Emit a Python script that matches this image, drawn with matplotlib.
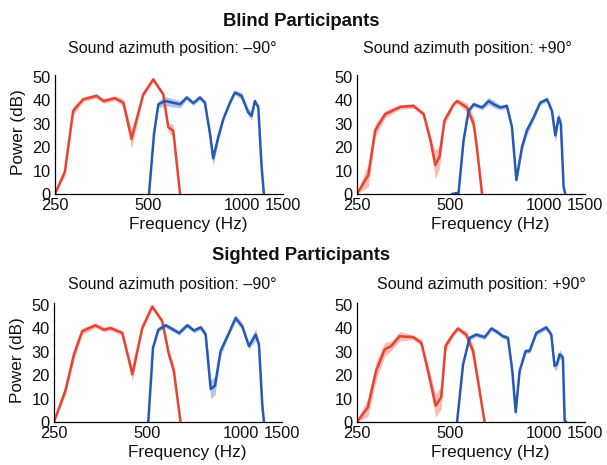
import numpy as np
import matplotlib.pyplot as plt
from matplotlib.ticker import NullLocator

plt.rcParams['font.family'] = ['Liberation Sans', 'DejaVu Sans']

# Blind participants, -90 deg
bl_m90_red_f = [250, 269, 286, 308, 340, 358, 390, 415, 441, 481, 518, 558, 579, 601, 632]
bl_m90_red_db = [0, 9.5, 35.5, 40.4, 41.9, 39.7, 40.9, 39, 23.6, 42.5, 48.9, 42.5, 28.5, 27, 0]
bl_m90_red_err = [0.5, 2, 2, 1, 1, 1, 1, 1.5, 4, 1, 1, 1, 2, 2.5, 0.5]
bl_m90_blue_f = [502, 521, 538, 565, 632, 664, 697, 732, 760, 789, 808, 839, 871, 915, 949,
                 997, 1048, 1074, 1101, 1129, 1157, 1177]
bl_m90_blue_db = [0, 25.7, 38.3, 39.7, 38.3, 41.2, 38.8, 41.2, 39, 25.7, 15.2, 24.3, 32, 39, 43.3,
                  41.9, 34.8, 33.4, 39.7, 37, 11.7, 0]
bl_m90_blue_err = [0.5, 1, 1.5, 2, 1.5, 1, 1, 1, 1, 2, 3, 2, 1, 1, 1, 1.5, 1.5, 2, 1, 1, 1, 0.5]

# Blind participants, +90 deg
bl_p90_red_f = [250, 272, 286, 308, 345, 380, 410, 431, 447, 461, 478, 512, 525, 565, 594, 608, 632]
bl_p90_red_db = [0, 8.1, 27.1, 34.1, 37.2, 37.6, 34.1, 22.9, 12.4, 15.9, 31.3, 38.3, 39.7, 36.9, 29.9, 20, 0]
bl_p90_red_err = [1, 5, 3, 1.5, 1, 1, 1, 2, 6, 5, 2, 1, 1, 2, 3, 3, 1]
bl_p90_blue_f = [505, 531, 551, 572, 594, 632, 664, 689, 724, 760, 789, 815, 850, 881, 926, 973,
                 1023, 1061, 1088, 1115, 1134, 1157, 1171]
bl_p90_blue_db = [0, 0.5, 22.9, 35.5, 38.3, 36.9, 39.7, 38.3, 36.9, 37.6, 28.5, 6, 20.1, 27.1, 32.7, 39,
                  40.4, 35.5, 25, 32.7, 29.9, 3.2, 0]
bl_p90_blue_err = [0.5, 1, 1.5, 1, 1, 1, 1.5, 1.5, 1, 1, 1.5, 2, 2, 2, 1.5, 1, 1, 1.5, 3, 2, 2, 1, 0.5]

# Sighted participants, -90 deg
si_m90_red_f = [250, 272, 290, 308, 340, 362, 380, 415, 447, 481, 518, 558, 586, 608, 639]
si_m90_red_db = [0, 13.4, 28.9, 38.7, 41.3, 39.4, 40.1, 38, 20.4, 40.1, 49.3, 43, 28.9, 21.8, 0]
si_m90_red_err = [0.5, 2, 2.5, 1.5, 1, 1, 1, 1, 3, 1, 1, 1, 2, 3, 0.5]
si_m90_blue_f = [503, 521, 542, 572, 632, 672, 706, 742, 770, 799, 825, 860, 915, 961, 1010,
                 1061, 1115, 1143, 1171, 1186]
si_m90_blue_db = [0, 31.7, 39.4, 41.3, 38, 41.3, 39, 40.4, 37.3, 14.1, 15.5, 30.3, 38, 44.4, 40.8,
                  32.4, 37.3, 33.1, 7.7, 0]
si_m90_blue_err = [0.5, 1, 1, 1, 1, 1, 1, 1, 1.5, 4, 4, 2, 1, 1.5, 1.5, 1.5, 2.5, 2, 1, 0.5]

# Sighted participants, +90 deg
si_p90_red_f = [250, 271, 288, 307, 322, 343, 379, 403, 428, 448, 467, 482, 509, 528, 562, 591, 613, 644]
si_p90_red_db = [0, 6.3, 21.8, 31, 32.4, 36.6, 36.2, 33.8, 19, 7, 10.6, 32.4, 37.3, 39.9, 37.3, 30.3, 17.6, 0]
si_p90_red_err = [1, 4, 4, 3, 2, 2, 1, 1.5, 3, 5, 5, 2, 1, 1, 1.5, 3, 3, 0.5]
si_p90_blue_f = [525, 549, 576, 605, 644, 677, 702, 738, 766, 791, 811, 835, 873, 899, 945, 1017,
                 1056, 1082, 1101, 1123, 1151, 1166, 1180]
si_p90_blue_db = [0, 24.6, 35.9, 37.3, 36.2, 39.9, 38.7, 36.6, 35.9, 21.8, 4.2, 21.8, 30.3, 30.3, 38, 40.4,
                  37.3, 23.9, 24.6, 28.9, 27.5, 0.7, 0]
si_p90_blue_err = [0.5, 1, 1, 1, 1, 1, 1, 1, 1, 1.5, 2, 1.5, 1, 1, 1, 1, 1, 2, 2, 2, 1.5, 0.5, 0.5]

x_ticks = [250, 500, 1000]
x_tick_labels = ['250', '500', '1000', '1500']
y_ticks = [0, 10, 20, 30, 40, 50]

RED = '#e8432e'
BLUE = '#2558b8'
W, H = 607, 465


def draw(ax, f, db, err, color):
    f = np.array(f, dtype=float)
    db = np.array(db, dtype=float)
    err = np.array(err, dtype=float)
    ax.fill_between(f, np.clip(db - err, 0, None), db + err, color=color, alpha=0.35, lw=0)
    ax.plot(f, db, color=color, lw=1.8, solid_capstyle='round')


def style(ax, ylabel):
    ax.set_xscale('log')
    x_end = 1356  # right end of the axis, labelled 1500 in the original
    ax.set_xlim(250, x_end)
    ax.set_ylim(0, 50.8)
    ax.set_xticks(x_ticks + [x_end])
    ax.set_xticklabels(x_tick_labels)
    ax.xaxis.set_minor_locator(NullLocator())
    ax.set_yticks(y_ticks)
    ax.tick_params(length=0, labelsize=11.8, colors='#111111')
    ax.tick_params(axis='x', pad=3)
    ax.tick_params(axis='y', pad=3)
    for s in ['top', 'right']:
        ax.spines[s].set_visible(False)
    for s in ['left', 'bottom']:
        ax.spines[s].set_linewidth(0.9)
    ax.set_xlabel('Frequency (Hz)', fontsize=12.3, color='#111111')
    ax.xaxis.set_label_coords(0.583, -0.19)
    if ylabel:
        ax.set_ylabel('Power (dB)', fontsize=12.3, color='#111111')
        ax.yaxis.set_label_coords(-0.125, 0.52)


fig = plt.figure(figsize=(W / 100, H / 100), dpi=100)

panels = [
    ([55, 75], bl_m90_red_f, bl_m90_red_db, bl_m90_red_err, bl_m90_blue_f, bl_m90_blue_db, bl_m90_blue_err, True),
    ([357, 75], bl_p90_red_f, bl_p90_red_db, bl_p90_red_err, bl_p90_blue_f, bl_p90_blue_db, bl_p90_blue_err, False),
    ([54, 303], si_m90_red_f, si_m90_red_db, si_m90_red_err, si_m90_blue_f, si_m90_blue_db, si_m90_blue_err, True),
    ([357, 303], si_p90_red_f, si_p90_red_db, si_p90_red_err, si_p90_blue_f, si_p90_blue_db, si_p90_blue_err, False),
]

for (x0, y0), rf, rd, re, bf, bd, be, ylab in panels:
    ax = fig.add_axes([x0 / W, 1 - (y0 + 119) / H, 228 / W, 119 / H])
    draw(ax, rf, rd, re, RED)
    draw(ax, bf, bd, be, BLUE)
    style(ax, ylab)

fig.text(301.5 / W, 1 - 21 / H, 'Blind Participants', ha='center', va='center',
         fontsize=13.3, fontweight='bold', color='#111111')
fig.text(301.5 / W, 1 - 255 / H, 'Sighted Participants', ha='center', va='center',
         fontsize=13.3, fontweight='bold', color='#111111')
sub = dict(ha='center', va='center', fontsize=11.5, color='#111111')
fig.text(172 / W, 1 - 49 / H, 'Sound azimuth position: \u201390\u00b0', **sub)
fig.text(467 / W, 1 - 49 / H, 'Sound azimuth position: +90\u00b0', **sub)
fig.text(172 / W, 1 - 284 / H, 'Sound azimuth position: \u201390\u00b0', **sub)
fig.text(481 / W, 1 - 284 / H, 'Sound azimuth position: +90\u00b0', **sub)

fig.savefig('out.png', dpi=100)
